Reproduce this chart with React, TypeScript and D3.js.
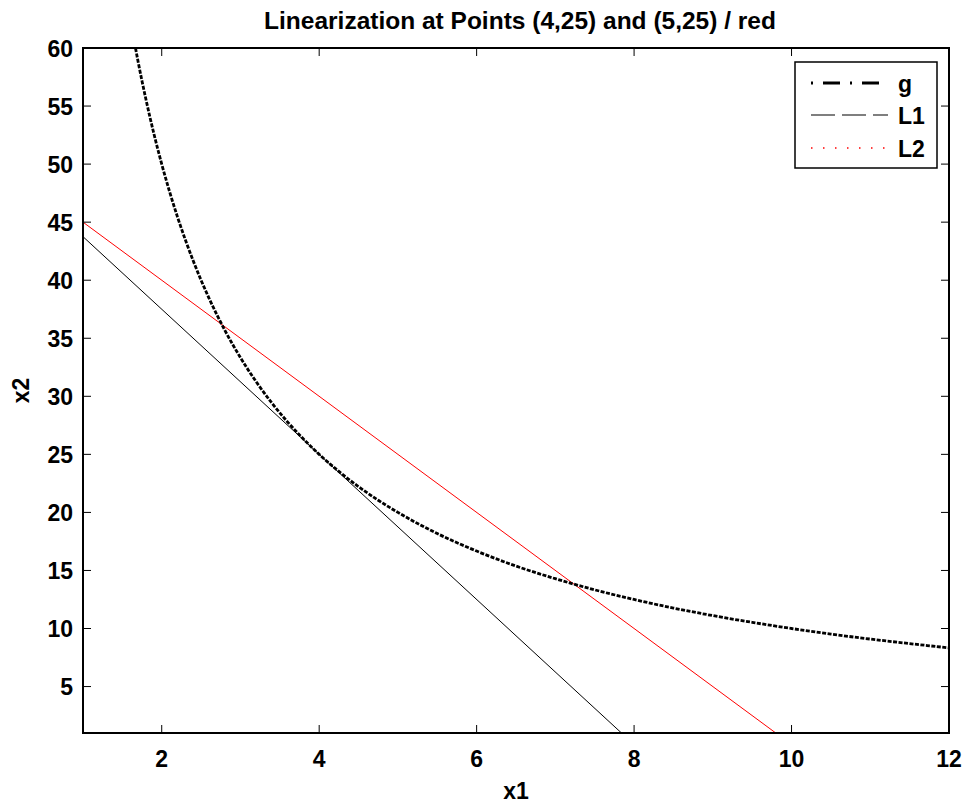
import React from "react";
import * as d3 from "d3";

const gX = [1.6667, 1.7, 1.75, 1.8, 1.85, 1.9, 2, 2.1, 2.2, 2.3, 2.4, 2.5, 2.6, 2.8, 3, 3.2, 3.4, 3.6, 3.8, 4, 4.25, 4.5, 4.75, 5, 5.5, 6, 6.5, 7, 7.5, 8, 8.5, 9, 9.5, 10, 10.5, 11, 11.5, 12];
const gY = [60, 58.82, 57.14, 55.56, 54.05, 52.63, 50, 47.62, 45.45, 43.48, 41.67, 40, 38.46, 35.71, 33.33, 31.25, 29.41, 27.78, 26.32, 25, 23.53, 22.22, 21.05, 20, 18.18, 16.67, 15.38, 14.29, 13.33, 12.5, 11.76, 11.11, 10.53, 10, 9.52, 9.09, 8.7, 8.33];
const l1X = [1, 7.84];
const l1Y = [43.75, 1];
const l2X = [1, 9.8];
const l2Y = [45, 1];
const xTicks = [2, 4, 6, 8, 10, 12];
const yTicks = [5, 10, 15, 20, 25, 30, 35, 40, 45, 50, 55, 60];
const legendLabels = ["g", "L1", "L2"];
const title = "Linearization at Points (4,25) and (5,25) / red";

const W = 969, H = 803;
const left = 83, right = 949, top = 48, bottom = 733;
const FONT = "'Liberation Sans', Arial, Helvetica, sans-serif";

export default function App() {
  const x = d3.scaleLinear().domain([1, 12]).range([left, right]);
  const y = d3.scaleLinear().domain([1, 60]).range([bottom, top]);
  const line = d3.line<[number, number]>().x(d => x(d[0])).y(d => y(d[1]));
  const gPath = d3.line<[number, number]>().x(d => x(d[0])).y(d => y(d[1])).curve(d3.curveMonotoneX)(gX.map((v, i) => [v, gY[i]]))!;
  const l1Path = line(l1X.map((v, i) => [v, l1Y[i]]))!;
  const l2Path = line(l2X.map((v, i) => [v, l2Y[i]]))!;
  const tl = 8;

  const legendStyles = [
    { stroke: "#000", width: 3, dash: "2,10,17,10" },
    { stroke: "#000", width: 1.2, dash: "24,7" },
    { stroke: "#ff0000", width: 1.5, dash: "1.5,10.5" },
  ];
  const lgX = 795, lgY = 62, lgW = 142, lgH = 106;
  const rowY = [83, 115, 148];

  return (
    <svg width={W} height={H} style={{ position: "absolute", left: 0, top: 0, background: "#fff" }} fontFamily={FONT}>
      <rect x={0} y={0} width={W} height={H} fill="#fff" />
      <text x={520} y={29} textAnchor="middle" fontSize={24.5} fontWeight="bold">{title}</text>

      {/* data lines */}
      <path d={l1Path} fill="none" stroke="#000" strokeWidth={1} />
      <path d={l2Path} fill="none" stroke="#ff0000" strokeWidth={1} />
      <path d={gPath} fill="none" stroke="#000" strokeWidth={2.8} strokeDasharray="4,1.5" />

      {/* axes box */}
      <rect x={left} y={top} width={right - left} height={bottom - top} fill="none" stroke="#000" strokeWidth={2} />
      {xTicks.map(t => (
        <g key={"x" + t}>
          <line x1={x(t)} x2={x(t)} y1={bottom} y2={bottom - tl} stroke="#000" strokeWidth={1} />
          <line x1={x(t)} x2={x(t)} y1={top} y2={top + tl} stroke="#000" strokeWidth={1} />
          <text x={x(t)} y={767} textAnchor="middle" fontSize={23} fontWeight="bold">{t}</text>
        </g>
      ))}
      {yTicks.map(t => (
        <g key={"y" + t}>
          <line x1={left} x2={left + tl} y1={y(t)} y2={y(t)} stroke="#000" strokeWidth={1} />
          <line x1={right} x2={right - tl} y1={y(t)} y2={y(t)} stroke="#000" strokeWidth={1} />
          <text x={73} y={y(t) + 8.5} textAnchor="end" fontSize={23} fontWeight="bold">{t}</text>
        </g>
      ))}
      <text x={516} y={799} textAnchor="middle" fontSize={23} fontWeight="bold">x1</text>
      <text transform={`translate(29,${(top + bottom) / 2}) rotate(-90)`} textAnchor="middle" fontSize={23} fontWeight="bold">x2</text>

      {/* legend */}
      <rect x={lgX} y={lgY} width={lgW} height={lgH} fill="#fff" stroke="#000" strokeWidth={1.5} />
      {legendLabels.map((lab, i) => (
        <g key={lab}>
          <line x1={811} x2={888} y1={rowY[i]} y2={rowY[i]} stroke={legendStyles[i].stroke} strokeWidth={legendStyles[i].width} strokeDasharray={legendStyles[i].dash} />
          <text x={898} y={rowY[i] + 8.5} fontSize={23} fontWeight="bold">{lab}</text>
        </g>
      ))}
    </svg>
  );
}
